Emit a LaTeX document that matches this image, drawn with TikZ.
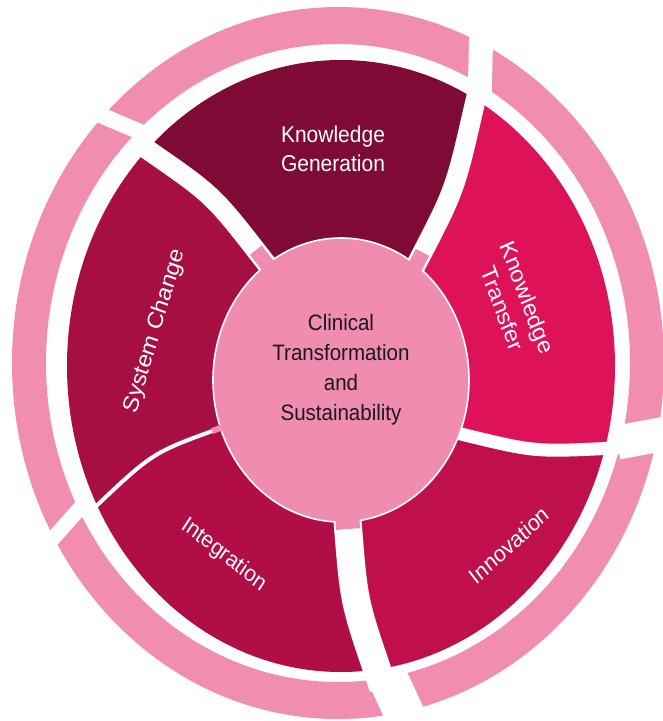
\documentclass[tikz,border=0pt]{standalone}
\usepackage{fontspec}
\setmainfont{Liberation Sans}
\usetikzlibrary{calc}
\definecolor{ringpink}{HTML}{F18DAF}
\definecolor{hubpink}{HTML}{F08CAF}
\definecolor{kgcol}{HTML}{800A36}
\definecolor{ktcol}{HTML}{DE1258}
\definecolor{incol}{HTML}{BF104C}
\definecolor{igcol}{HTML}{B10E47}
\definecolor{sccol}{HTML}{A70F42}
\definecolor{hubtext}{HTML}{1A1420}
\tikzset{
  wtxt/.style={text=white, align=center, inner sep=0pt, font=\fontsize{21}{27}\selectfont},
  wbig/.style={wtxt, font=\fontsize{22}{27}\selectfont},
  ctxt/.style={text=hubtext, align=center, inner sep=0pt, font=\fontsize{20.5}{27.5}\selectfont},
  gapline/.style={draw=white, line width=#1},
  stubline/.style={draw=hubpink, line width=#1},
  stretched/.style={yscale=1.09, rotate=#1, transform shape},
}
\begin{document}
\begin{tikzpicture}[x=1pt,y=-1pt]
\useasboundingbox (0,0) rectangle (663,721);
% centres
\coordinate (co) at (338,363);
\coordinate (cs) at (341,366);
\coordinate (ch) at (341,380);
% segment gaps: inner point, control, outer point
\coordinate (p1) at (417,263); \coordinate (c1) at (455,190); \coordinate (q1) at (474,107);
\coordinate (p2) at (465,435); \coordinate (c2) at (535,452); \coordinate (q2) at (615,448);
\coordinate (p3) at (348,527); \coordinate (c3) at (354,602); \coordinate (q3) at (380,678);
\coordinate (p4) at (215,430); \coordinate (c4) at (152,453); \coordinate (q4) at (90,512);
\coordinate (p5) at (262,258); \coordinate (c5) at (213,195); \coordinate (q5) at (148,150);
% middle directions of the segments
\coordinate (mkg) at (341,60);
\coordinate (mkt) at (615,250);
\coordinate (min) at (520,620);
\coordinate (mig) at (180,640);
\coordinate (msc) at (60,330);
% ring gaps: inner, outer
\coordinate (ra1) at (138,131); \coordinate (rb1) at (105,117);
\coordinate (ra2) at (480,82);  \coordinate (rb2) at (481,42);
\coordinate (ra3) at (631,440); \coordinate (rb3) at (663,434);
\coordinate (ra4) at (392,687); \coordinate (rb4) at (405,715);
\coordinate (ra5) at (73,516);  \coordinate (rb5) at (49,543);

% outer ring
\fill[ringpink, even odd rule] (co) ellipse [x radius=326, y radius=356]
                                (co) ellipse [x radius=292, y radius=319];
\draw[gapline=16] ($(ra1)!-14pt!(rb1)$) -- ($(rb1)!-14pt!(ra1)$);
\draw[gapline=24] ($(ra2)!-14pt!(rb2)$) -- ($(rb2)!-14pt!(ra2)$);
\draw[gapline=34] ($(ra3)!-14pt!(rb3)$) -- ($(rb3)!-14pt!(ra3)$);
\draw[gapline=40] ($(ra4)!-14pt!(rb4)$) -- ($(rb4)!-14pt!(ra4)$);
\draw[gapline=15] ($(ra5)!-14pt!(rb5)$) -- ($(rb5)!-14pt!(ra5)$);

% segments
\begin{scope}
\clip (cs) ellipse [x radius=274, y radius=306];
\fill[kgcol] (cs) -- (p5) .. controls (c5) .. (q5) -- ($(cs)!3!(q5)$) -- ($(cs)!3!(mkg)$)
  -- ($(cs)!3!(q1)$) -- (q1) .. controls (c1) .. (p1) -- cycle;
\fill[ktcol] (cs) -- (p1) .. controls (c1) .. (q1) -- ($(cs)!3!(q1)$) -- ($(cs)!3!(mkt)$)
  -- ($(cs)!3!(q2)$) -- (q2) .. controls (c2) .. (p2) -- cycle;
\fill[incol] (cs) -- (p2) .. controls (c2) .. (q2) -- ($(cs)!3!(q2)$) -- ($(cs)!3!(min)$)
  -- ($(cs)!3!(q3)$) -- (q3) .. controls (c3) .. (p3) -- cycle;
\fill[igcol] (cs) -- (p3) .. controls (c3) .. (q3) -- ($(cs)!3!(q3)$) -- ($(cs)!3!(mig)$)
  -- ($(cs)!3!(q4)$) -- (q4) .. controls (c4) .. (p4) -- cycle;
\fill[sccol] (cs) -- (p4) .. controls (c4) .. (q4) -- ($(cs)!3!(q4)$) -- ($(cs)!3!(msc)$)
  -- ($(cs)!3!(q5)$) -- (q5) .. controls (c5) .. (p5) -- cycle;
\end{scope}
% white gaps between segments
\draw[gapline=20] ($(p1)!-12pt!(c1)$) -- (p1) .. controls (c1) .. (q1) -- ($(q1)!-12pt!(c1)$);
\draw[gapline=13] ($(p2)!-12pt!(c2)$) -- (p2) .. controls (c2) .. (q2) -- ($(q2)!-8pt!(c2)$);
\draw[gapline=28] ($(p3)!-12pt!(c3)$) -- (p3) .. controls (c3) .. (q3) -- ($(q3)!-10pt!(c3)$);
\draw[gapline=4]  ($(p4)!-12pt!(c4)$) -- (p4) .. controls (c4) .. (q4) -- ($(q4)!-6pt!(c4)$);
\draw[gapline=20] ($(p5)!-12pt!(c5)$) -- (p5) .. controls (c5) .. (q5) -- ($(q5)!-12pt!(c5)$);

% hub
\fill[hubpink] (ch) ellipse [x radius=128, y radius=142];
\draw[white, line width=1.6] (ch) ellipse [x radius=128, y radius=142];
\draw[stubline=15] ($(p1)!-12pt!(c1)$) -- ($(p1)!12pt!(c1)$);
\draw[stubline=24] ($(p3)!-12pt!(c3)$) -- ($(p3)!2pt!(c3)$);
\draw[stubline=6]  ($(p4)!-12pt!(c4)$) -- ($(p4)!3pt!(c4)$);
\draw[stubline=15] ($(p5)!-12pt!(c5)$) -- ($(p5)!10pt!(c5)$);

% labels (text stretched vertically like the reference)
\begin{scope}[shift={(333,149)}]
  \node[wtxt, stretched=0] (kg) at (0,0) {Knowledge\\Generation};
\end{scope}
\begin{scope}[shift={(515,303)}]
  \node[wbig, stretched=-68] (kt) at (0,0) {Knowledge\\Transfer};
\end{scope}
\begin{scope}[shift={(509,545)}]
  \node[wtxt, stretched=40] (in) at (0,0) {Innovation};
\end{scope}
\begin{scope}[shift={(224,555)}]
  \node[wtxt, stretched=-36] (ig) at (0,0) {Integration};
\end{scope}
\begin{scope}[shift={(155,331)}]
  \node[wbig, stretched=72] (sc) at (0,0) {System Change};
\end{scope}
\begin{scope}[shift={(341,370)}]
  \node[ctxt, stretched=0] (hub) at (0,0) {Clinical\\Transformation\\and\\Sustainability};
\end{scope}
\end{tikzpicture}
\end{document}
